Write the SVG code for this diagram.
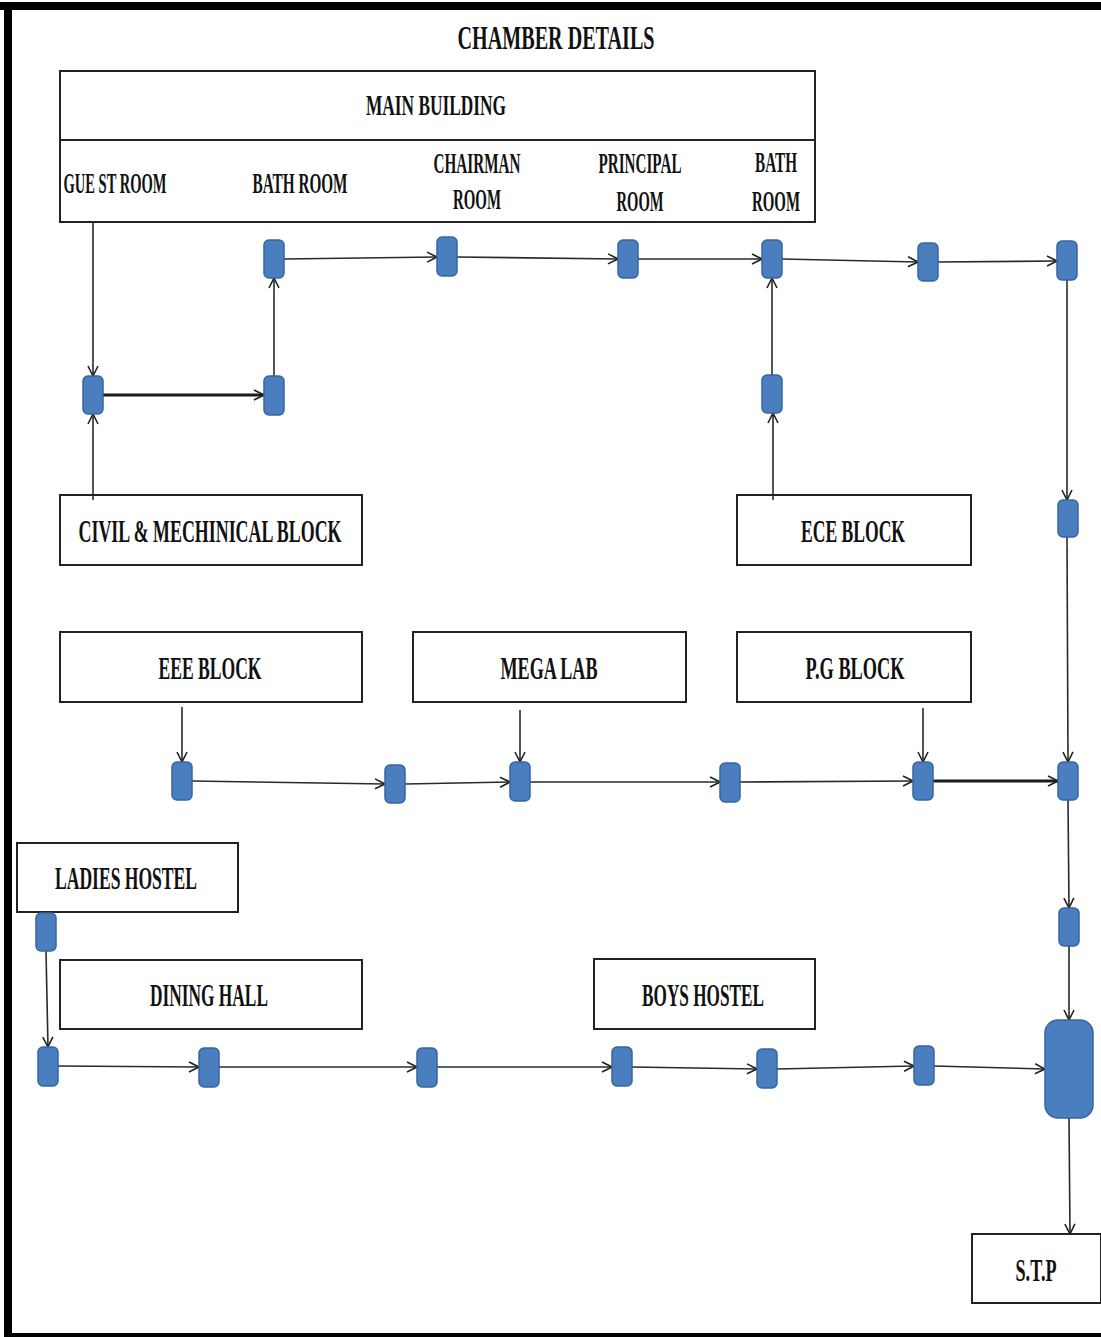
<svg xmlns="http://www.w3.org/2000/svg" width="1101" height="1337" viewBox="0 0 1101 1337">
<style>
.t{font-family:"Liberation Serif","Times New Roman",serif;font-weight:bold;fill:#111;text-anchor:middle}
.box{fill:#fff;stroke:#222;stroke-width:2}
.nd{fill:#4a7ebf;stroke:#3566a3;stroke-width:1.5}
.c{fill:none;stroke:#2a2a2a;stroke-width:1.6;marker-end:url(#ah)}
.ct{fill:none;stroke:#1a1a1a;stroke-width:3;marker-end:url(#ah)}
</style>
<defs>
<marker id="ah" viewBox="0 0 12 12" refX="11" refY="6" markerWidth="12" markerHeight="12" markerUnits="userSpaceOnUse" orient="auto">
<path d="M1,1 L11,6 L1,11" fill="none" stroke="#222" stroke-width="1.6"/>
</marker>
</defs>
<rect width="1101" height="1337" fill="#fff"/>
<g id="frame">
<rect x="0" y="2" width="1101" height="8" fill="#000"/>
<rect x="4" y="2" width="8" height="1335" fill="#000"/>
<rect x="4" y="1333" width="1097" height="4" fill="#000"/>
</g>
<text class="t" transform="translate(556,49) scale(0.5,1)" font-size="34" textLength="394" lengthAdjust="spacingAndGlyphs">CHAMBER DETAILS</text>
<g id="main-building">
<rect class="box" x="60" y="71" width="755" height="151"/>
<line x1="60" y1="140" x2="815" y2="140" stroke="#222" stroke-width="2"/>
<text class="t" transform="translate(436,115) scale(0.5,1)" font-size="30" textLength="280" lengthAdjust="spacingAndGlyphs">MAIN BUILDING</text>
<text class="t" transform="translate(115,193) scale(0.5,1)" font-size="30" textLength="206" lengthAdjust="spacingAndGlyphs">GUE ST ROOM</text>
<text class="t" transform="translate(300,193) scale(0.5,1)" font-size="30" textLength="190" lengthAdjust="spacingAndGlyphs">BATH ROOM</text>
<text class="t" transform="translate(477,173) scale(0.5,1)" font-size="30" textLength="174" lengthAdjust="spacingAndGlyphs">CHAIRMAN</text>
<text class="t" transform="translate(477,209) scale(0.5,1)" font-size="30" textLength="96" lengthAdjust="spacingAndGlyphs">ROOM</text>
<text class="t" transform="translate(640,173) scale(0.5,1)" font-size="30" textLength="166" lengthAdjust="spacingAndGlyphs">PRINCIPAL</text>
<text class="t" transform="translate(640,211) scale(0.5,1)" font-size="30" textLength="94" lengthAdjust="spacingAndGlyphs">ROOM</text>
<text class="t" transform="translate(776,172) scale(0.5,1)" font-size="30" textLength="84" lengthAdjust="spacingAndGlyphs">BATH</text>
<text class="t" transform="translate(776,211) scale(0.5,1)" font-size="30" textLength="96" lengthAdjust="spacingAndGlyphs">ROOM</text>
</g>
<g id="civil-block"><rect class="box" x="60" y="495" width="302" height="70"/><text class="t" transform="translate(210,542) scale(0.5,1)" font-size="32" textLength="526" lengthAdjust="spacingAndGlyphs">CIVIL &amp; MECHINICAL  BLOCK</text></g>
<g id="ece-block"><rect class="box" x="737" y="495" width="234" height="70"/><text class="t" transform="translate(853,542) scale(0.5,1)" font-size="32" textLength="208" lengthAdjust="spacingAndGlyphs">ECE BLOCK</text></g>
<g id="eee-block"><rect class="box" x="60" y="632" width="302" height="70"/><text class="t" transform="translate(210,679) scale(0.5,1)" font-size="32" textLength="206" lengthAdjust="spacingAndGlyphs">EEE BLOCK</text></g>
<g id="mega-lab"><rect class="box" x="413" y="632" width="273" height="70"/><text class="t" transform="translate(549,679) scale(0.5,1)" font-size="32" textLength="194" lengthAdjust="spacingAndGlyphs">MEGA LAB</text></g>
<g id="pg-block"><rect class="box" x="737" y="632" width="234" height="70"/><text class="t" transform="translate(855,679) scale(0.5,1)" font-size="32" textLength="198" lengthAdjust="spacingAndGlyphs">P.G BLOCK</text></g>
<g id="ladies-hostel"><rect class="box" x="17" y="843" width="221" height="69"/><text class="t" transform="translate(126,889) scale(0.5,1)" font-size="32" textLength="284" lengthAdjust="spacingAndGlyphs">LADIES HOSTEL</text></g>
<g id="dining-hall"><rect class="box" x="60" y="960" width="302" height="69"/><text class="t" transform="translate(209,1006) scale(0.5,1)" font-size="32" textLength="236" lengthAdjust="spacingAndGlyphs">DINING HALL</text></g>
<g id="boys-hostel"><rect class="box" x="594" y="959" width="221" height="70"/><text class="t" transform="translate(703,1006) scale(0.5,1)" font-size="32" textLength="244" lengthAdjust="spacingAndGlyphs">BOYS HOSTEL</text></g>
<g id="stp"><rect class="box" x="972" y="1234" width="129" height="69"/><text class="t" transform="translate(1036,1281) scale(0.5,1)" font-size="32" textLength="82" lengthAdjust="spacingAndGlyphs">S.T.P</text></g>
<g id="connectors">
<path class="c" d="M93,222 V376"/>
<path class="c" d="M93,500 V414"/>
<path class="ct" d="M103,395 H264"/>
<path class="c" d="M274,376 V278"/>
<path class="c" d="M284,259 L437,257"/>
<path class="c" d="M457,257 L618,259"/>
<path class="c" d="M638,259 L762,259"/>
<path class="c" d="M782,259 L918,262"/>
<path class="c" d="M938,262 L1057,261"/>
<path class="c" d="M773,500 V413"/>
<path class="c" d="M772,375 V278"/>
<path class="c" d="M1067,280 V500"/>
<path class="c" d="M1067,537 L1068,762"/>
<path class="c" d="M182,707 V762"/>
<path class="c" d="M520,710 V762"/>
<path class="c" d="M923,708 V762"/>
<path class="c" d="M192,781 L385,784"/>
<path class="c" d="M405,784 L510,782"/>
<path class="c" d="M530,782 L720,782"/>
<path class="c" d="M740,782 L913,781"/>
<path class="ct" d="M933,781 L1058,781"/>
<path class="c" d="M1068,800 L1069,908"/>
<path class="c" d="M1069,946 V1020"/>
<path class="c" d="M46,951 L48,1047"/>
<path class="c" d="M58,1066 L199,1067"/>
<path class="c" d="M219,1067 L417,1067"/>
<path class="c" d="M437,1067 L612,1067"/>
<path class="c" d="M632,1067 L757,1069"/>
<path class="c" d="M777,1069 L914,1066"/>
<path class="c" d="M934,1066 L1045,1069"/>
<path class="c" d="M1069,1118 L1070,1234"/>
</g>
<g id="nodes">
<rect class="nd" x="264" y="240" width="20" height="38" rx="5"/>
<rect class="nd" x="437" y="237" width="20" height="39" rx="5"/>
<rect class="nd" x="618" y="240" width="20" height="38" rx="5"/>
<rect class="nd" x="762" y="240" width="20" height="38" rx="5"/>
<rect class="nd" x="918" y="243" width="20" height="38" rx="5"/>
<rect class="nd" x="1057" y="241" width="20" height="39" rx="5"/>
<rect class="nd" x="83" y="376" width="20" height="38" rx="5"/>
<rect class="nd" x="264" y="376" width="20" height="39" rx="5"/>
<rect class="nd" x="762" y="375" width="20" height="38" rx="5"/>
<rect class="nd" x="1058" y="500" width="20" height="37" rx="5"/>
<rect class="nd" x="172" y="762" width="20" height="38" rx="5"/>
<rect class="nd" x="385" y="765" width="20" height="38" rx="5"/>
<rect class="nd" x="510" y="762" width="20" height="39" rx="5"/>
<rect class="nd" x="720" y="763" width="20" height="39" rx="5"/>
<rect class="nd" x="913" y="762" width="20" height="38" rx="5"/>
<rect class="nd" x="1058" y="762" width="20" height="38" rx="5"/>
<rect class="nd" x="1059" y="908" width="20" height="38" rx="5"/>
<rect class="nd" x="36" y="913" width="20" height="38" rx="5"/>
<rect class="nd" x="38" y="1047" width="20" height="39" rx="5"/>
<rect class="nd" x="199" y="1048" width="20" height="39" rx="5"/>
<rect class="nd" x="417" y="1048" width="20" height="39" rx="5"/>
<rect class="nd" x="612" y="1047" width="20" height="39" rx="5"/>
<rect class="nd" x="757" y="1049" width="20" height="39" rx="5"/>
<rect class="nd" x="914" y="1046" width="20" height="39" rx="5"/>
<rect class="nd" x="1045" y="1020" width="48" height="98" rx="13"/>
</g>
</svg>
